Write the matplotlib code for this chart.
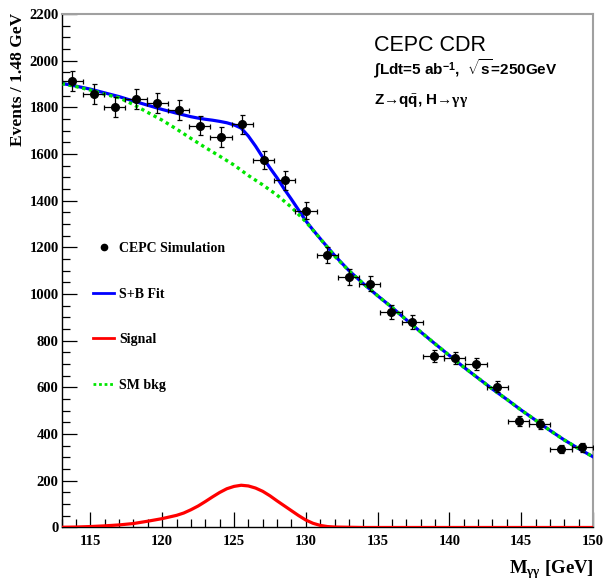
"""CEPC CDR: diphoton mass spectrum for Z->qq, H->gamma gamma with S+B fit."""

import matplotlib
matplotlib.use("Agg")
import matplotlib.pyplot as plt
from matplotlib.lines import Line2D
from matplotlib.ticker import MultipleLocator

plt.rcParams.update({
    "font.family": "Liberation Serif",
    "font.weight": "bold",
    "mathtext.fontset": "custom",
    "mathtext.rm": "Liberation Serif",
    "mathtext.it": "Liberation Serif:italic",
    "mathtext.bf": "Liberation Sans:bold",
})

# simulated events, 1.48 GeV bins between 113 and 150 GeV
bin_centres = [113.74, 115.22, 116.70, 118.18, 119.66, 121.14, 122.62, 124.10,
               125.58, 127.06, 128.54, 130.02, 131.50, 132.98, 134.46, 135.94,
               137.42, 138.90, 140.38, 141.86, 143.34, 144.82, 146.30, 147.78,
               149.26]
events = [1913, 1858, 1801, 1834, 1817, 1789, 1721, 1673,
          1727, 1574, 1487, 1357, 1166, 1073, 1044, 923,
          880, 734, 727, 700, 604, 456, 444, 337,
          344]
event_err = [44, 43, 42, 43, 43, 42, 41, 41,
             42, 40, 39, 37, 34, 33, 32, 30,
             30, 27, 27, 26, 25, 21, 21, 18,
             19]
bin_half = 0.74

# S+B fit curve
fit_mass = [113, 114, 115, 116, 117, 118, 119, 120, 121, 122, 122.5, 123, 123.5,
            124, 124.5, 125, 125.5, 126, 126.5, 127, 127.5, 128, 128.5, 129,
            129.5, 130, 130.5, 131, 132, 133, 134, 135, 136, 137, 138, 139, 140,
            141, 142, 143, 144, 145, 146, 147, 148, 149, 150]
fit_events = [1903, 1891, 1878, 1862, 1846, 1827, 1809, 1791, 1775, 1760, 1754,
              1749, 1745, 1740, 1734, 1725, 1711, 1677, 1634, 1586, 1541, 1498,
              1450, 1406, 1360, 1314, 1275, 1238, 1166, 1101, 1045, 993, 943,
              890, 838, 787, 737, 687, 640, 593, 549, 503, 460, 416, 375, 338,
              303]

# background component (SM bkg)
bkg_mass = [113, 114, 115, 116, 117, 118, 119, 120, 121, 122, 123, 124, 125,
            126, 127, 128, 129, 130, 131, 132, 133, 134, 135, 136, 137, 138,
            139, 140, 141, 142, 143, 144, 145, 146, 147, 148, 149, 150]
bkg_events = [1902, 1889, 1874, 1856, 1841, 1812, 1778, 1745, 1707, 1667, 1628,
              1591, 1553, 1508, 1468, 1424, 1372, 1310, 1238, 1163, 1100, 1045,
              993, 943, 890, 838, 787, 737, 687, 640, 593, 549, 503, 460, 416,
              375, 338, 303]

# signal component
sig_mass = [113, 114, 115, 116, 117, 118, 119, 120, 121, 121.5, 122, 122.5, 123,
            123.5, 124, 124.5, 125, 125.5, 126, 126.5, 127, 127.5, 128, 128.5,
            129, 129.5, 130, 130.5, 131, 131.5, 132, 133, 134, 150]
sig_events = [1, 2, 4, 7, 11, 17, 27, 38, 52, 62, 76, 92, 111, 131, 150, 166,
              176, 181, 178, 169, 155, 136, 114, 93, 72, 51, 32, 18, 9, 4, 2, 1,
              0, 0]

fig = plt.figure(figsize=(6.06, 5.81), dpi=100)
ax = fig.add_axes([0.1018, 0.0921, 0.8767, 0.8838])

ax.plot(fit_mass, fit_events, color="#0000ff", lw=2.3, zorder=3)
ax.plot(bkg_mass, bkg_events, color="#00e600", lw=2.4, ls=(0, (1, 1.1)), zorder=4)
ax.plot(sig_mass, sig_events, color="#ff0000", lw=2.3, zorder=3)
ax.errorbar(bin_centres, events, xerr=bin_half, yerr=event_err, fmt="o",
            color="black", ms=5.5, elinewidth=0.9, capsize=1.8, capthick=0.9,
            zorder=5)

ax.set_xlim(113, 150)
ax.set_ylim(0, 2200)
ax.xaxis.set_major_locator(MultipleLocator(5))
ax.xaxis.set_minor_locator(MultipleLocator(1))
ax.yaxis.set_major_locator(MultipleLocator(200))
ax.yaxis.set_minor_locator(MultipleLocator(50))
ax.tick_params(which="both", direction="in", top=False, right=False, width=0.9,
               labelsize=10.5)
ax.tick_params(which="major", length=11)
ax.tick_params(which="minor", length=5.5)
ax.tick_params(axis="x", pad=5.5)
ax.tick_params(axis="y", pad=2.2)
for side in ("left", "bottom"):
    ax.spines[side].set_linewidth(1.0)
for side in ("top", "right"):
    ax.spines[side].set_color("#a0a0a0")
    ax.spines[side].set_linewidth(1.5)

handles = [
    Line2D([], [], ls="none", marker="o", ms=4.5, color="black"),
    Line2D([], [], color="#0000ff", lw=2),
    Line2D([], [], color="#ff0000", lw=2),
    Line2D([], [], color="#00e600", lw=2, ls=(0, (1, 1))),
]
labels = ["CEPC Simulation", "S+B Fit", "Signal", "SM bkg"]
ax.legend(handles, labels, loc="center left", bbox_to_anchor=(0.035, 0.41),
          frameon=False, fontsize=10, labelspacing=2.35, handlelength=1.55,
          handletextpad=0.35)

fig.text(18 / 606, 1 - 13 / 581, "Events / 1.48 GeV", rotation=90,
         ha="center", va="top", fontsize=12.5)
fig.text(594 / 606, 1 - 573 / 581, r"M$_{\mathrm{\gamma\gamma}}$ [GeV]",
         ha="right", va="baseline", fontsize=13.5)

fig.text(374 / 606, 1 - 50.8 / 581, "CEPC CDR", family="Liberation Sans",
         weight="normal", fontsize=15.5, va="baseline")
fig.text(374 / 606, 1 - 75.5 / 581,
         r"∫Ldt=5 ab$^{\mathbf{-1}}$,  $\sqrt{\mathbf{s}}$=250GeV",
         family=["Liberation Sans", "DejaVu Sans"], weight="bold", fontsize=11,
         va="baseline")
fig.text(374 / 606, 1 - 104.5 / 581,
         r"Z→q$\bar{\mathbf{q}}$, H→$\mathrm{\gamma\gamma}$",
         family=["Liberation Sans", "DejaVu Sans"], weight="bold", fontsize=11,
         va="baseline")

fig.savefig("out.png", dpi=100)
